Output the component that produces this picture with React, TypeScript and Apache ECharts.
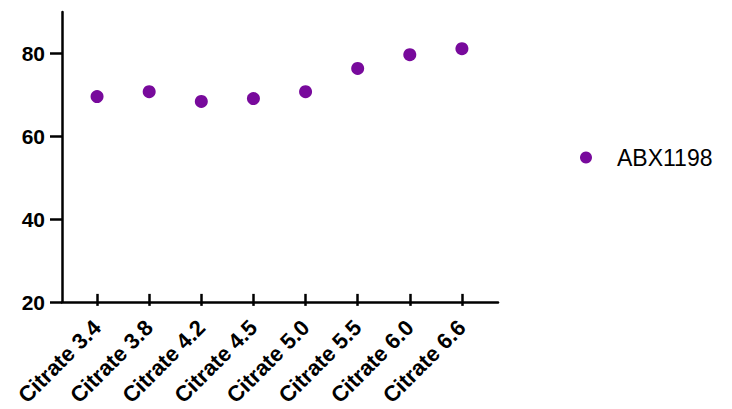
import React, { useEffect, useRef } from "react";
import * as echarts from "echarts";

const categories = ["Citrate 3.4", "Citrate 3.8", "Citrate 4.2", "Citrate 4.5", "Citrate 5.0", "Citrate 5.5", "Citrate 6.0", "Citrate 6.6"];
const abx1198 = [69.0, 70.2, 67.8, 68.5, 70.2, 76.0, 79.4, 80.9];
const seriesName = "ABX1198";
const yMin = 20;
const yMax = 90;
const yInterval = 20;

export default function App() {
  const ref = useRef<HTMLDivElement>(null);
  useEffect(() => {
    const chart = echarts.init(ref.current!, null, { renderer: "svg" });
    const purple = "#780a9c";
    const fontFamily = "Liberation Sans, Arial, sans-serif";
    chart.setOption({
      animation: false,
      grid: [
        { left: 62, top: 12, width: 436, height: 290 },
        { left: 71, top: 12, width: 417, height: 290 },
      ],
      xAxis: [
        {
          gridIndex: 0,
          type: "value",
          min: 0,
          max: 1,
          axisLine: { show: true, lineStyle: { color: "#000", width: 2.5 } },
          axisTick: { show: false },
          axisLabel: { show: false },
          splitLine: { show: false },
        },
        {
          gridIndex: 1,
          type: "category",
          data: categories,
          boundaryGap: true,
          axisLine: { show: false },
          axisTick: { show: true, alignWithLabel: true, length: 12, lineStyle: { color: "#000", width: 2.5 } },
          axisLabel: {
            rotate: 45,
            margin: 30,
            color: "#000",
            fontWeight: "bold",
            fontSize: 22,
            fontFamily,
            interval: 0,
          },
          splitLine: { show: false },
        },
      ],
      yAxis: [
        {
          gridIndex: 0,
          type: "value",
          min: yMin,
          max: yMax,
          interval: yInterval,
          axisLine: { show: true, lineStyle: { color: "#000", width: 2.5 } },
          axisTick: { show: true, length: 12, lineStyle: { color: "#000", width: 2.5 } },
          axisLabel: {
            color: "#000",
            fontWeight: "bold",
            fontSize: 21,
            fontFamily,
            margin: 17,
            showMaxLabel: false,
          },
          splitLine: { show: false },
        },
        {
          gridIndex: 1,
          type: "value",
          min: yMin,
          max: yMax,
          interval: yInterval,
          show: false,
        },
      ],
      legend: {
        left: 575,
        top: 141,
        itemWidth: 12,
        itemHeight: 12,
        icon: "circle",
        data: [seriesName],
        itemStyle: { opacity: 1 },
        textStyle: { color: "#000", fontSize: 23, fontFamily, padding: [0, 0, 0, 20] },
      },
      series: [
        {
          name: seriesName,
          type: "scatter",
          xAxisIndex: 1,
          yAxisIndex: 1,
          data: abx1198,
          symbol: "circle",
          symbolSize: 13,
          itemStyle: { color: purple, opacity: 1 },
        },
      ],
    });
    return () => chart.dispose();
  }, []);
  return <div ref={ref} style={{ width: 732, height: 409, position: "absolute", left: 0, top: 0 }} />;
}
